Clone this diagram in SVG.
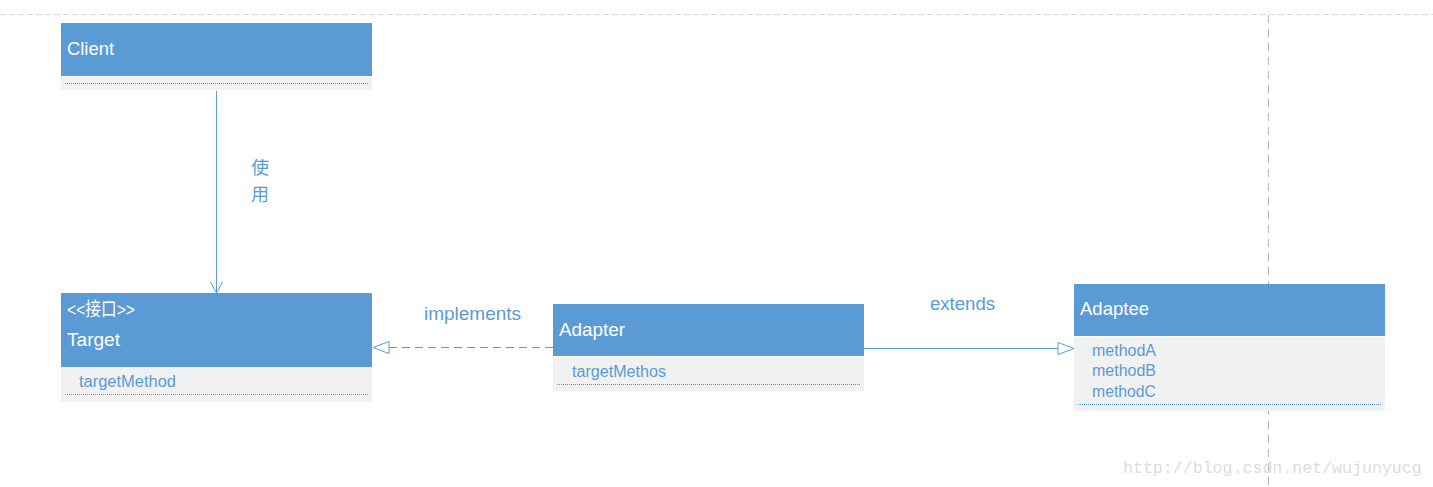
<svg xmlns="http://www.w3.org/2000/svg" width="1433" height="487" viewBox="0 0 1433 487">
<style>
.hdr{fill:#5B9BD5}
.body{fill:#F1F1F1}
.dot{stroke:#5B9BD5;stroke-width:1;stroke-dasharray:1 1;fill:none}
.wt{fill:#FFFFFF;font-family:"Liberation Sans","Noto Sans CJK SC",sans-serif;font-size:19px}
.bt{fill:#5B9BD5;font-family:"Liberation Sans","Noto Sans CJK SC",sans-serif;font-size:16px}
.lbl{fill:#5B9BD5;font-family:"Liberation Sans","Noto Sans CJK SC",sans-serif;font-size:18px}
.ln{stroke:#5B9BD5;stroke-width:1;fill:none}
</style>
<defs>
<marker id="open" markerWidth="12" markerHeight="18" refX="11" refY="9" orient="auto" markerUnits="userSpaceOnUse">
<path d="M0,3 L11,9 L0,15" fill="none" stroke="#5B9BD5" stroke-width="1"/>
</marker>
<marker id="tri" markerWidth="20" markerHeight="20" refX="17" refY="10" orient="auto" markerUnits="userSpaceOnUse">
<path d="M1,4 L17,10 L1,16 Z" fill="#FFFFFF" stroke="#5B9BD5" stroke-width="1"/>
</marker>
</defs>
<rect width="1433" height="487" fill="#FFFFFF"/>
<g id="background">
<line x1="0" y1="14.5" x2="1433" y2="14.5" stroke="#DDDDDD" stroke-width="1" stroke-dasharray="6 3"/>
<line x1="1268.5" y1="15" x2="1268.5" y2="487" stroke="#B8B8B8" stroke-width="1" stroke-dasharray="8 6"/>
<text x="1123" y="473" fill="#DDDDDD" font-family="'Liberation Mono',monospace" font-size="16.6px">http://blog.csdn.net/wujunyucg</text>
</g>
<g id="connectors">
<line class="ln" x1="216.5" y1="91" x2="216.5" y2="293" marker-end="url(#open)"/>
<line class="ln" x1="553" y1="347.5" x2="373" y2="347.5" stroke-dasharray="8 5" marker-end="url(#tri)"/>
<line class="ln" x1="864" y1="348.5" x2="1074" y2="348.5" marker-end="url(#tri)"/>
<text class="lbl" x="251" y="174">使</text>
<text class="lbl" x="251" y="201">用</text>
<text class="lbl" x="424" y="320" textLength="97" lengthAdjust="spacingAndGlyphs">implements</text>
<text class="lbl" x="930" y="310" textLength="65" lengthAdjust="spacingAndGlyphs">extends</text>
</g>
<g id="client">
<rect class="hdr" x="61" y="23" width="311" height="53"/>
<rect class="body" x="61" y="77" width="311" height="13"/>
<line class="dot" x1="65" y1="83.5" x2="368" y2="83.5"/>
<text class="wt" x="67" y="55" textLength="47" lengthAdjust="spacingAndGlyphs">Client</text>
</g>
<g id="target">
<rect class="hdr" x="61" y="293" width="311" height="74"/>
<rect class="body" x="61" y="367" width="311" height="35"/>
<line class="dot" x1="65" y1="394.5" x2="368" y2="394.5"/>
<text class="wt" x="67" y="316" font-size="15px" textLength="68" lengthAdjust="spacingAndGlyphs">&lt;&lt;接口&gt;&gt;</text>
<text class="wt" x="67" y="346" textLength="53" lengthAdjust="spacingAndGlyphs">Target</text>
<text class="bt" x="79" y="387" textLength="97" lengthAdjust="spacingAndGlyphs">targetMethod</text>
</g>
<g id="adapter">
<rect class="hdr" x="553" y="304" width="311" height="52"/>
<rect class="body" x="553" y="357" width="311" height="34"/>
<line class="dot" x1="557" y1="384.5" x2="860" y2="384.5"/>
<text class="wt" x="559" y="336" textLength="66" lengthAdjust="spacingAndGlyphs">Adapter</text>
<text class="bt" x="572" y="377" textLength="94" lengthAdjust="spacingAndGlyphs">targetMethos</text>
</g>
<g id="adaptee">
<rect class="hdr" x="1074" y="284" width="311" height="52"/>
<rect class="body" x="1074" y="337" width="311" height="74"/>
<line class="dot" x1="1078" y1="404.5" x2="1381" y2="404.5"/>
<text class="wt" x="1080" y="315" textLength="69" lengthAdjust="spacingAndGlyphs">Adaptee</text>
<text class="bt" x="1092" y="356" textLength="64" lengthAdjust="spacingAndGlyphs">methodA</text>
<text class="bt" x="1092" y="376" textLength="64" lengthAdjust="spacingAndGlyphs">methodB</text>
<text class="bt" x="1092" y="397" textLength="64" lengthAdjust="spacingAndGlyphs">methodC</text>
</g>
</svg>
